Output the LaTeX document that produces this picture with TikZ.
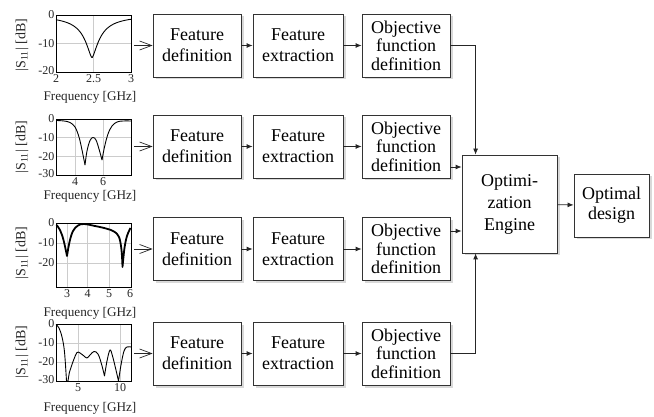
\documentclass[tikz,border=0pt]{standalone}
\usepackage{fontspec}
\setmainfont{Liberation Serif}
\usetikzlibrary{arrows.meta,shadows}
\begin{document}
\begin{tikzpicture}[x=1pt,y=-1pt,
  box/.style={draw=black!80, line width=0.8pt, fill=white, align=center, inner sep=0pt,
    font=\fontsize{18}{21}\selectfont,
    drop shadow={shadow xshift=2.5pt, shadow yshift=-2.5pt, opacity=0.3, fill=black!50}},
  objbox/.style={box, font=\fontsize{18}{18.5}\selectfont},
  arr/.style={draw=black!85, line width=0.8pt, -{Latex[length=6pt,width=5pt]}},
  openarr/.style={draw=black!85, line width=0.7pt, -{Straight Barb[length=12pt,width=9pt]}},
  frame/.style={draw=black, line width=0.8pt},
  gridl/.style={draw=black!20, line width=0.5pt},
  curve/.style={draw=black, line width=0.9pt, line join=round},
  tick/.style={font=\fontsize{12}{12}\selectfont, text=black!85, inner sep=0.5pt},
  ylab/.style={font=\fontsize{14}{15}\selectfont, text=black!85, rotate=90, inner sep=0pt},
  xlab/.style={font=\fontsize{13.2}{14}\selectfont, text=black!85, inner sep=0pt}
]
\useasboundingbox (0,0) rectangle (654,417);

% ---------------- boxes ----------------
\foreach \r/\yc in {1/45.5, 2/146.5, 3/249, 4/353.5}{
  \node[box, minimum width=88pt, minimum height=63pt] (fd\r) at (197,\yc) {Feature\\definition};
  \node[box, minimum width=90pt, minimum height=63pt] (fe\r) at (298,\yc) {Feature\\extraction};
  \node[objbox, minimum width=88pt, minimum height=63pt] (ob\r) at (406,\yc) {Objective\\function\\definition};
  \draw[arr] (fd\r) -- (fe\r);
  \draw[arr] (fe\r) -- (ob\r);
  \coordinate (s\r) at (134,\yc);
  \draw[openarr] (s\r) -- (fd\r.west);
}
\node[box, minimum width=95pt, minimum height=98pt, font=\fontsize{18}{22}\selectfont] (eng) at (509.5,204) {Optimi-\\zation\\Engine};
\node[box, minimum width=75pt, minimum height=63pt, font=\fontsize{18}{20}\selectfont] (opt) at (611.5,205.5) {Optimal\\design};

\draw[arr] (ob1.east) -| ([xshift=14pt]eng.north west);
\coordinate (a2) at ([yshift=-20.5pt]ob2.east);
\draw[arr] (a2) -- (a2 -| eng.west);
\coordinate (a3) at ([yshift=18pt]ob3.east);
\draw[arr] (a3) -- (a3 -| eng.west);
\draw[arr] (ob4.east) -| ([xshift=14pt]eng.south west);
\draw[arr] (eng) -- (opt);

% ---------------- plot 1 ----------------
\draw[gridl] (93.5,15) -- (93.5,72) (56,43.5) -- (131,43.5);
\draw[curve] plot[domain=2:3, samples=100] ({(\x-2)*75+56}, {15+2.85*15/(1+pow(abs(\x-2.48)/0.12+0.001,1.5))});
\draw[frame] (56,15) rectangle (131,72);
\node[tick, anchor=east] at (55,15) {0};
\node[tick, anchor=east] at (55,43.5) {-10};
\node[tick, anchor=east] at (55,71) {-20};
\node[tick, anchor=north] at (56,73.5) {2};
\node[tick, anchor=north] at (93.5,73.5) {2.5};
\node[tick, anchor=north] at (131,73.5) {3};
\node[xlab] at (90,97.5) {Frequency [GHz]};
\node[ylab] at (22,45) {|S\textsubscript{11}| [dB]};

% ---------------- plot 2 ----------------
\draw[gridl] (75,119) -- (75,175) (103,119) -- (103,175) (56,137.7) -- (131,137.7) (56,156.3) -- (131,156.3);
\draw[curve] plot[smooth, tension=0.6] coordinates {(56.5,120.5) (64,121) (70,122.5) (75,127) (79,137) (82,150) (85,165)}
  -- plot[smooth, tension=0.6] coordinates {(85,165) (87,151) (90,140.5) (93,137.5) (96,140) (99,149) (102,160)}
  -- plot[smooth, tension=0.6] coordinates {(102,160) (104.5,147) (108,134) (112,126) (117,122) (123,121) (131,121)};
\draw[frame] (56,119) rectangle (131,175);
\node[tick, anchor=east] at (55,119) {0};
\node[tick, anchor=east] at (55,137.7) {-10};
\node[tick, anchor=east] at (55,156.3) {-20};
\node[tick, anchor=east] at (55,174) {-30};
\node[tick, anchor=north] at (75,176.5) {4};
\node[tick, anchor=north] at (103,176.5) {6};
\node[xlab] at (90,196) {Frequency [GHz]};
\node[ylab] at (22,147) {|S\textsubscript{11}| [dB]};

% ---------------- plot 3 ----------------
\draw[gridl] (67,223) -- (67,287) (87.5,223) -- (87.5,287) (109,223) -- (109,287) (56,243) -- (131,243) (56,263) -- (131,263);
\draw[curve, line width=1.8pt] plot[smooth, tension=0.6] coordinates {(56.5,225) (60,230) (63.5,240) (67,256)}
  -- plot[smooth, tension=0.6] coordinates {(67,256) (69.5,242) (73,231) (78,225.5) (84,224) (95,226) (106,228.5) (114,231.5)(119,237) (121.5,250) (122.5,267)}
  -- plot[smooth, tension=0.6] coordinates {(122.5,267) (124.5,248) (127,236) (130.5,228)};
\draw[frame] (56,223) rectangle (131,287);
\node[tick, anchor=east] at (55,223) {0};
\node[tick, anchor=east] at (55,243) {-10};
\node[tick, anchor=east] at (55,263) {-20};
\node[tick, anchor=north] at (67,288.5) {3};
\node[tick, anchor=north] at (87.5,288.5) {4};
\node[tick, anchor=north] at (109,288.5) {5};
\node[tick, anchor=north] at (130,288.5) {6};
\node[xlab] at (90,313.5) {Frequency [GHz]};
\node[ylab] at (22,253) {|S\textsubscript{11}| [dB]};

% ---------------- plot 4 ----------------
\draw[gridl] (78,324) -- (78,381) (120,324) -- (120,381) (56,343) -- (131,343) (56,362) -- (131,362);
\draw[curve] plot[smooth, tension=0.6] coordinates {(56,324.5) (59,328) (62,337) (64.5,352) (66.5,381)}
  -- (68,381)
  -- plot[smooth, tension=0.6] coordinates {(68,381) (69.5,372) (71.5,366) (74,359) (77,352.5) (80,353) (84,356) (87,358) (90,355) (94,351.5) (98,354) (101.5,364) (104.5,376)}
  -- plot[smooth, tension=0.6] coordinates {(104.5,376) (107,361) (110,350) (112.5,356) (115.5,368) (118.5,381)}
  -- plot[smooth, tension=0.6] coordinates {(118.5,381) (121,365) (124,351) (127,347) (131,347)};
\draw[frame] (56,324) rectangle (131,381);
\node[tick, anchor=east] at (55,324) {0};
\node[tick, anchor=east] at (55,343) {-10};
\node[tick, anchor=east] at (55,362) {-20};
\node[tick, anchor=east] at (55,380) {-30};
\node[tick, anchor=north] at (78,382.5) {5};
\node[tick, anchor=north] at (120,382.5) {10};
\node[xlab] at (90,408.5) {Frequency [GHz]};
\node[ylab] at (22,352) {|S\textsubscript{11}| [dB]};
\end{tikzpicture}
\end{document}
